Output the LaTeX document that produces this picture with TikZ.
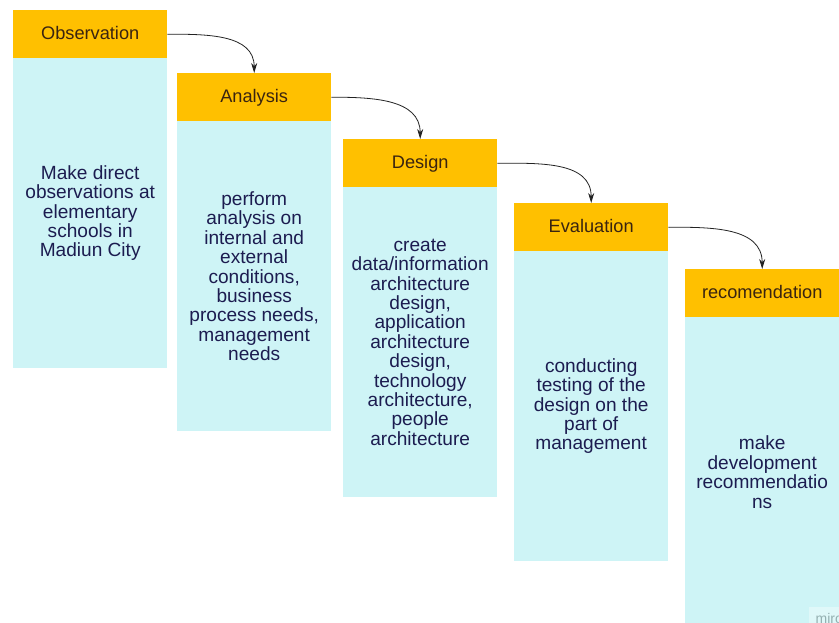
\documentclass[tikz,border=0pt]{standalone}
\usepackage{fontspec}
\setmainfont{Liberation Sans}
\usetikzlibrary{arrows.meta}
\definecolor{headfill}{HTML}{FFC000}
\definecolor{bodyfill}{HTML}{CEF4F6}
\definecolor{headtext}{HTML}{3A2410}
\definecolor{bodytext}{HTML}{1C1C50}
\definecolor{linkcol}{HTML}{222222}
\tikzset{
  x=1pt,y=-1pt,
  headbox/.style={fill=headfill,text=headtext,minimum width=154pt,minimum height=48pt,inner sep=0pt,text height=13pt,text depth=3pt,anchor=north west,font=\fontsize{18.2}{19.4}\selectfont},
  bodybox/.style={fill=bodyfill,text=bodytext,minimum width=154pt,minimum height=310pt,inner sep=0pt,anchor=north west,align=center,font=\fontsize{19.1}{19.4}\selectfont},
  flowlink/.style={draw=linkcol,line width=0.8pt,-{Stealth[length=10pt,width=6pt]},out=0,in=90,looseness=1.05},
}
\begin{document}
\begin{tikzpicture}
\useasboundingbox (0,0) rectangle (839,623);
\clip (0,0) rectangle (839,623);
\fill[white] (0,0) rectangle (839,623);

\node[bodybox] (obsb) at (13,58) {Make direct\\observations at\\elementary\\schools in\\Madiun City};
\node[headbox] (obs) at (13,10) {Observation};

\node[bodybox] (anab) at (177,121) {perform\\analysis on\\internal and\\external\\conditions,\\business\\process needs,\\management\\needs};
\node[headbox] (ana) at (177,73) {Analysis};

\node[bodybox] (desb) at (343,187) {create\\data/information\\architecture\\design,\\application\\architecture\\design,\\technology\\architecture,\\people\\architecture};
\node[headbox] (des) at (343,139) {Design};

\node[bodybox] (evab) at (514,251) {conducting\\testing of the\\design on the\\part of\\management};
\node[headbox] (eva) at (514,203) {Evaluation};

\node[bodybox] (recb) at (685,317) {make\\development\\recommendatio\\ns};
\node[headbox] (rec) at (685,269) {recomendation};

\draw[flowlink] (obs.east) to (ana.north);
\draw[flowlink] (ana.east) to (des.north);
\draw[flowlink] (des.east) to (eva.north);
\draw[flowlink] (eva.east) to (rec.north);

\fill[bodyfill!65!white] (809,607) rectangle (839,623);
\node[anchor=base west,inner sep=0pt,text=black!28!bodyfill,font=\fontsize{14}{14}\selectfont] (wm) at (815.5,623) {miro};
\end{tikzpicture}
\end{document}
